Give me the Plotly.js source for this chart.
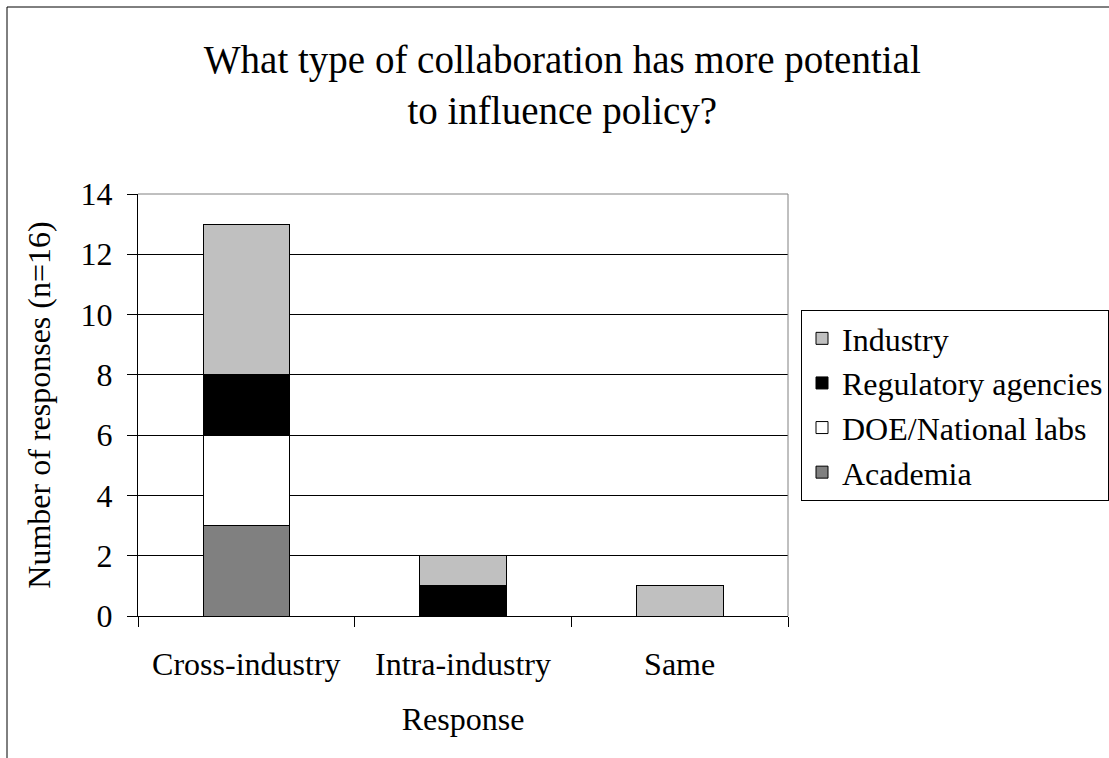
<!DOCTYPE html>
<html>
<head>
<meta charset="utf-8">
<script src="https://cdn.plot.ly/plotly-3.0.1.min.js"></script>
<style>
  html, body { margin: 0; padding: 0; background: #fff; }
  #chart svg text { font-family: 'Liberation Serif', 'Times New Roman', serif !important; }
</style>
</head>
<body>
<div id="chart"></div>
<script>
// Response categories on the x axis
const categories = ["Cross-industry", "Intra-industry", "Same"];

// Stacked counts per respondent group (bottom to top)
const academia   = [3, 0, 0];
const doeLabs    = [3, 0, 0];
const regulatory = [2, 1, 0];
const industry   = [5, 1, 1];

const FONT = "Liberation Serif";

function barTrace(name, values, color) {
  return {
    type: "bar",
    name: name,
    x: categories,
    y: values,
    marker: { color: color, line: { color: "#000000", width: 1 } }
  };
}

const traces = [
  barTrace("Academia", academia, "#808080"),
  barTrace("DOE/National labs", doeLabs, "#ffffff"),
  barTrace("Regulatory agencies", regulatory, "#000000"),
  barTrace("Industry", industry, "#c0c0c0")
];

const layout = {
  width: 1109,
  height: 758,
  font: { family: FONT, size: 32, color: "#000000" },
  margin: { l: 138, r: 321, t: 194, b: 142, pad: 0, autoexpand: false },
  barmode: "stack",
  bargap: 0.6,
  showlegend: true,
  title: {
    text: "What type of collaboration has more potential<br>to influence policy?",
    font: { family: FONT, size: 39 },
    x: 0.507,
    xanchor: "center",
    xref: "container",
    y: 1 - 73 / 758,
    yanchor: "top",
    yref: "container"
  },
  xaxis: {
    type: "category",
    showline: true,
    linecolor: "#000000",
    linewidth: 1,
    ticks: "outside",
    tickson: "boundaries",
    ticklen: 10,
    tickcolor: "#000000",
    tickwidth: 1,
    ticklabelstandoff: 20,
    showgrid: false,
    zeroline: false,
    tickfont: { family: FONT, size: 32 },
    title: { text: "Response", font: { family: FONT, size: 32 }, standoff: 26 }
  },
  yaxis: {
    range: [0, 14],
    dtick: 2,
    tick0: 0,
    showline: true,
    linecolor: "#000000",
    linewidth: 1,
    ticks: "outside",
    ticklen: 10,
    tickcolor: "#000000",
    tickwidth: 1,
    ticklabelstandoff: 8,
    showgrid: true,
    gridcolor: "#000000",
    gridwidth: 1,
    zeroline: false,
    tickfont: { family: FONT, size: 32 },
    title: { text: "Number of responses (n=16)", font: { family: FONT, size: 32 }, standoff: 20 }
  },
  legend: {
    x: 1.02,
    xanchor: "left",
    y: 0.725,
    yanchor: "top",
    traceorder: "reversed",
    bgcolor: "#ffffff",
    bordercolor: "#000000",
    borderwidth: 1,
    font: { family: FONT, size: 32 }
  },
  shapes: [
    // plot area frame (top and right edges)
    { type: "line", xref: "paper", yref: "paper", x0: 0, x1: 1, y0: 1, y1: 1,
      line: { color: "#808080", width: 1 }, layer: "above" },
    { type: "line", xref: "paper", yref: "paper", x0: 1, x1: 1, y0: 0, y1: 1,
      line: { color: "#808080", width: 1 }, layer: "above" },
    // outer chart frame
    { type: "rect", xref: "paper", yref: "paper",
      x0: -131 / 650, x1: 2, y0: -1, y1: 609 / 422,
      line: { color: "#000000", width: 1 }, layer: "below" }
  ]
};

Plotly.newPlot("chart", traces, layout, { staticPlot: true });
</script>
</body>
</html>
